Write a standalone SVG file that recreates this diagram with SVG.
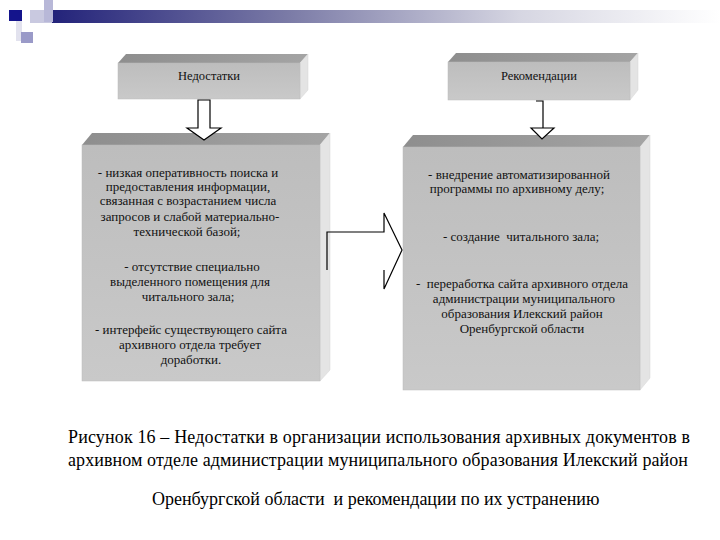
<svg xmlns="http://www.w3.org/2000/svg" width="720" height="540" viewBox="0 0 720 540" font-family="Liberation Serif, Times New Roman, Times, serif">
<defs>
<linearGradient id="bar" x1="0" y1="0" x2="1" y2="0">
<stop offset="0" stop-color="#23237a"/>
<stop offset="0.35" stop-color="#7a7aa6"/>
<stop offset="0.7" stop-color="#d6d6e2"/>
<stop offset="1" stop-color="#ffffff"/>
</linearGradient>
<linearGradient id="topface" x1="0" y1="0" x2="1" y2="0">
<stop offset="0" stop-color="#8e8e8e"/>
<stop offset="1" stop-color="#a4a4a4"/>
</linearGradient>
<linearGradient id="front" x1="0" y1="0" x2="0" y2="1">
<stop offset="0" stop-color="#bdbdbd"/>
<stop offset="1" stop-color="#c9c9c9"/>
</linearGradient>
<style>
.front{fill:url(#front);stroke:#bcbcbc;stroke-width:0.5}
.top{fill:url(#topface)}
.side{fill:#e4e4e4;stroke:#d6d6d6;stroke-width:0.5}
.t{font-size:13px;fill:#111;text-anchor:middle}
.h{font-size:12.5px;fill:#111;text-anchor:middle}
.cap{font-size:18px;fill:#000}
.arr{fill:#fff;stroke:#000;stroke-width:1.2}
.ln{fill:none;stroke:#000;stroke-width:1.2}
</style>
</defs>
<rect width="720" height="540" fill="#ffffff"/>
<g id="decoration">
<rect x="52" y="10" width="668" height="13" fill="url(#bar)"/>
<rect x="30" y="10" width="22" height="13" fill="#c9c9e0"/>
<rect x="44" y="0" width="9" height="22" fill="#b8b8d8"/>
<rect x="9" y="10" width="13" height="11" fill="#14148c"/>
<rect x="16" y="21" width="6" height="20" fill="#e2e2ee"/>
<rect x="21" y="32" width="12" height="11" fill="#9a9ac8"/>
</g>
<g id="node-nedostatki">
<polygon class="top" points="118,63 126,54 308,54 300,63"/>
<polygon class="side" points="300,63 308,54 308,90 300,99"/>
<rect class="front" x="118" y="63" width="182" height="36"/>
<text class="h" x="209" y="80">Недостатки</text>
</g>
<g id="node-rekomendacii">
<polygon class="top" points="448,62 456,53 638,53 630,62"/>
<polygon class="side" points="630,62 638,53 638,90 630,100"/>
<rect class="front" x="448" y="62" width="182" height="38"/>
<text class="h" x="539" y="80">Рекомендации</text>
</g>
<g id="node-left-list">
<polygon class="top" points="82,145 92,133 330,133 320,145"/>
<polygon class="side" points="320,145 330,133 330,370 320,381"/>
<rect class="front" x="82" y="145" width="238" height="236"/>
<text class="t" x="188" y="177">- низкая оперативность поиска и</text>
<text class="t" x="188" y="191">предоставления информации,</text>
<text class="t" x="188" y="205">связанная с возрастанием числа</text>
<text class="t" x="190" y="221">запросов и слабой материально-</text>
<text class="t" x="187" y="236">технической базой;</text>
<text class="t" x="192" y="271">- отсутствие специально</text>
<text class="t" x="190" y="286">выделенного помещения для</text>
<text class="t" x="188" y="301">читального зала;</text>
<text class="t" x="191" y="334">- интерфейс существующего сайта</text>
<text class="t" x="190" y="349">архивного отдела требует</text>
<text class="t" x="191" y="364">доработки.</text>
</g>
<g id="node-right-list">
<polygon class="top" points="403,147 413,135 650,135 640,147"/>
<polygon class="side" points="640,147 650,135 650,378 640,390"/>
<rect class="front" x="403" y="147" width="237" height="243"/>
<text class="t" x="519" y="179">- внедрение автоматизированной</text>
<text class="t" x="517" y="193">программы по архивному делу;</text>
<text class="t" x="521" y="241" xml:space="preserve">- создание  читального зала;</text>
<text class="t" x="522" y="288" xml:space="preserve">-  переработка сайта архивного отдела</text>
<text class="t" x="524" y="303">администрации муниципального</text>
<text class="t" x="522" y="318">образования Илекский район</text>
<text class="t" x="522" y="333">Оренбургской области</text>
</g>
<g id="connectors">
<polygon class="arr" points="198,100 210,100 210,128 221,128 204,140 187,128 198,128"/>
<polyline class="ln" points="536,101 543,101 543,128"/>
<polygon class="arr" points="531,128 554,128 542,139"/>
<polyline class="ln" points="327,270 327,232 384,232 384,213 402,250 384,289 384,270"/>
</g>
<g id="caption">
<text class="cap" x="68" y="443" textLength="622" lengthAdjust="spacing">Рисунок 16 – Недостатки в организации использования архивных документов в</text>
<text class="cap" x="68" y="466" textLength="620" lengthAdjust="spacing">архивном отделе администрации муниципального образования Илекский район</text>
<text class="cap" x="152" y="505" xml:space="preserve">Оренбургской области  и рекомендации по их устранению</text>
</g>
</svg>
